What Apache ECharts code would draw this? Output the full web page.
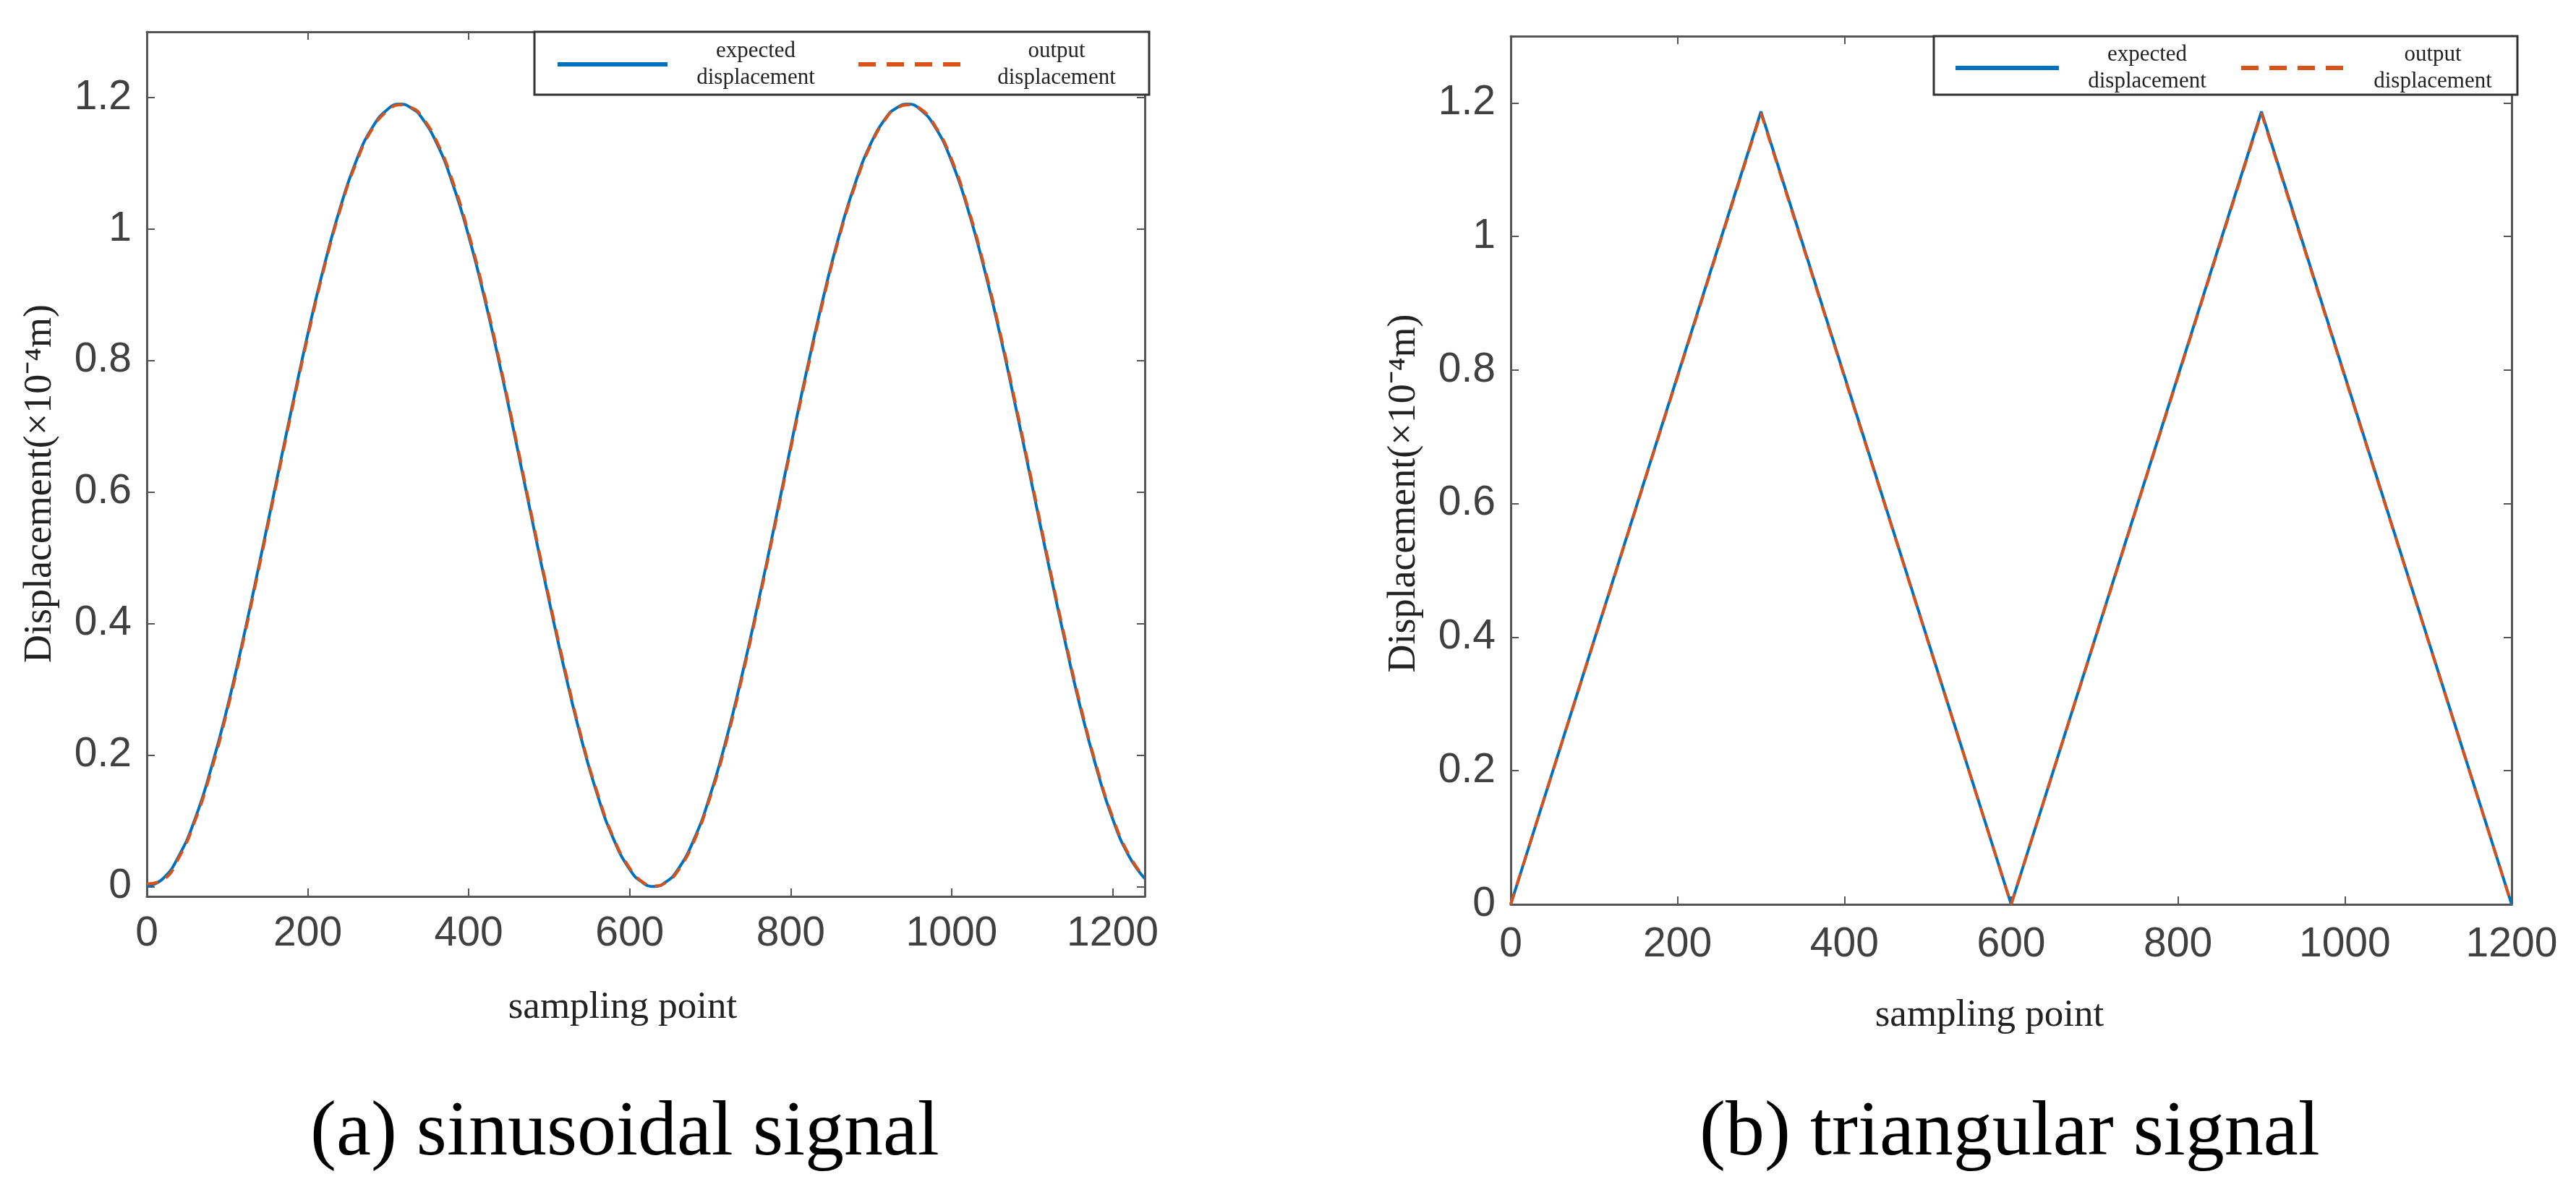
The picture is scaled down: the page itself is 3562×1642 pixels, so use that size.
<!DOCTYPE html>
<html>
<head>
<meta charset="utf-8">
<title>sinusoidal and triangular signal</title>
<script src="https://cdn.jsdelivr.net/npm/echarts@6/dist/echarts.min.js"></script>
<style>
    html, body { margin: 0; padding: 0; background: #fff; }
    #chart { width: 3562px; height: 1642px; }
</style>
</head>
<body>
<div id="chart"></div>
<script>
// sampling points
var sinX = [0, 20, 40, 60, 80, 100, 120, 140, 160, 180, 200, 220, 240, 260, 280, 300, 315,
    330, 340, 360, 380, 400, 420, 440, 460, 480, 500, 520, 540, 560, 580, 600, 615, 630,
    645, 660, 680, 700, 720, 740, 760, 780, 800, 820, 840, 860, 880, 900, 920, 930, 945,
    960, 980, 1000, 1020, 1040, 1060, 1080, 1100, 1120, 1140, 1160, 1180, 1200, 1220, 1240];
var sinExpected = [0.00, 0.012, 0.047, 0.103, 0.180, 0.272, 0.378, 0.492, 0.610, 0.727, 0.840, 0.942, 1.031, 1.103, 1.154, 1.183, 1.190,
    1.183, 1.172, 1.131, 1.069, 0.989, 0.893, 0.785, 0.669, 0.550, 0.434, 0.324, 0.224, 0.139, 0.072, 0.026, 0.007, 0.000,
    0.007, 0.026, 0.072, 0.139, 0.224, 0.324, 0.434, 0.550, 0.669, 0.785, 0.893, 0.989, 1.069, 1.131, 1.172, 1.183, 1.190,
    1.183, 1.154, 1.103, 1.031, 0.942, 0.840, 0.727, 0.610, 0.492, 0.378, 0.272, 0.180, 0.103, 0.047, 0.012];
var sinOutput = [0.004, 0.010, 0.044, 0.100, 0.176, 0.268, 0.374, 0.488, 0.606, 0.723, 0.836, 0.939, 1.028, 1.100, 1.152, 1.181, 1.189,
    1.184, 1.174, 1.134, 1.073, 0.993, 0.897, 0.789, 0.673, 0.554, 0.438, 0.328, 0.227, 0.142, 0.074, 0.028, 0.008, 0.001,
    0.006, 0.024, 0.069, 0.136, 0.220, 0.320, 0.430, 0.546, 0.665, 0.781, 0.889, 0.986, 1.066, 1.129, 1.171, 1.182, 1.189,
    1.184, 1.156, 1.106, 1.034, 0.946, 0.844, 0.731, 0.614, 0.496, 0.382, 0.276, 0.183, 0.106, 0.049, 0.013];

// corner points
var triX = [0, 300, 600, 900, 1200];
var triExpected = [0, 1.187, 0, 1.187, 0];
var triOutput = [0, 1.185, 0, 1.185, 0];

var xTicks = [0, 200, 400, 600, 800, 1000, 1200];
var yTicks = [0, 0.2, 0.4, 0.6, 0.8, 1, 1.2];
var seriesNames = ['expected displacement', 'output displacement'];
var captions = ['(a) sinusoidal signal', '(b) triangular signal'];

var blue = '#0072BD';
var orange = '#D95319';
var frameColor = '#555';
var labelColor = '#404040';
var sansFont = '"Liberation Sans", Arial, sans-serif';
var serifFont = '"Liberation Serif", "Times New Roman", serif';

function pairs(xs, ys) {
    return xs.map(function (x, i) { return [x, ys[i]]; });
}

function plain(v) {
    return String(v);
}

var chart = echarts.init(document.getElementById('chart'));

// four axes for each grid so the frame gets inward ticks on every side
function makeX(gi, max, margin, nameShift) {
    var base = {
        gridIndex: gi, type: 'value', min: 0, max: max,
        axisLine: { show: true, onZero: false, lineStyle: { color: frameColor, width: 3 } },
        axisTick: { show: true, inside: true, length: 11, customValues: xTicks, lineStyle: { color: frameColor, width: 2 } },
        splitLine: { show: false }
    };
    var bottom = Object.assign({}, base, {
        position: 'bottom',
        name: 'sampling point', nameLocation: 'middle', nameGap: 128,
        // right padding nudges the centred name a little to the left
        nameTextStyle: { fontFamily: serifFont, fontSize: 53, color: '#222', padding: [0, nameShift, 0, 0] },
        axisLabel: { customValues: xTicks, formatter: plain, fontFamily: sansFont, fontSize: 57, color: labelColor, margin: margin }
    });
    var top = Object.assign({}, base, { position: 'top', axisLabel: { show: false } });
    return [bottom, top];
}

function makeY(gi, min, max, nameShift) {
    var base = {
        gridIndex: gi, type: 'value', min: min, max: max,
        axisLine: { show: true, onZero: false, lineStyle: { color: frameColor, width: 3 } },
        axisTick: { show: true, inside: true, length: 11, customValues: yTicks, lineStyle: { color: frameColor, width: 2 } },
        splitLine: { show: false }
    };
    var left = Object.assign({}, base, {
        position: 'left',
        name: 'Displacement(×10⁻⁴m)', nameLocation: 'middle', nameGap: 120,
        // rotated name: right padding moves it down a bit
        nameTextStyle: { fontFamily: serifFont, fontSize: 54, color: '#222', padding: [0, nameShift, 0, 0] },
        axisLabel: { customValues: yTicks, formatter: plain, fontFamily: sansFont, fontSize: 57, color: labelColor, margin: 21 }
    });
    var right = Object.assign({}, base, { position: 'right', axisLabel: { show: false } });
    return [left, right];
}

var xa = makeX(0, 1240, 24, 64);
var xb = makeX(1, 1200, 28, 60);
var ya = makeY(0, -0.015, 1.3, 54);
var yb = makeY(1, 0, 1.3, 64);

function makeLegend(left, top, iconW, padding) {
    return {
        left: left, top: top, orient: 'horizontal',
        itemWidth: iconW, itemHeight: 20, itemGap: padding[4],
        padding: padding.slice(0, 4),
        borderColor: '#333', borderWidth: 3, backgroundColor: '#fff',
        selectedMode: false,
        data: [
            { name: seriesNames[0], itemStyle: { opacity: 0 }, lineStyle: { width: 6, type: 'solid' } },
            { name: seriesNames[1], itemStyle: { opacity: 0 }, lineStyle: { width: 6, type: [24, 15] } }
        ],
        formatter: function (name) {
            var parts = name.split(' ');
            return '{t|' + parts[0] + '}\n{t|' + parts[1] + '}';
        },
        textStyle: {
            rich: { t: { width: 234, align: 'center', fontFamily: serifFont, fontSize: 31, lineHeight: 37, color: '#222' } }
        }
    };
}

function makeSeries(xi, yi, xs, exp, out, smooth) {
    return [
        {
            name: seriesNames[0], type: 'line', xAxisIndex: xi, yAxisIndex: yi,
            data: pairs(xs, exp), smooth: smooth, symbol: 'none',
            lineStyle: { color: blue, width: 4 }, itemStyle: { color: blue }, z: 2
        },
        {
            name: seriesNames[1], type: 'line', xAxisIndex: xi, yAxisIndex: yi,
            data: pairs(xs, out), smooth: smooth, symbol: 'none',
            lineStyle: { color: orange, width: 4, type: [16, 12] }, itemStyle: { color: orange }, z: 3
        }
    ];
}

var option = {
    animation: false,
    backgroundColor: '#fff',
    grid: [
        { left: 203, top: 44, width: 1380, height: 1196 },
        { left: 2089, top: 50, width: 1384, height: 1201 }
    ],
    xAxis: [xa[0], xa[1], xb[0], xb[1]],
    yAxis: [ya[0], ya[1], yb[0], yb[1]],
    legend: [
        makeLegend(739, 44, 152, [11, 11, 8, 29, 22]),
        makeLegend(2674, 50, 143, [10, 0, 3, 27, 10])
    ],
    graphic: [
        { type: 'text', left: 879 - 450, top: 1515, style: { text: captions[0], fontFamily: serifFont, fontSize: 108, fill: '#000', width: 900, align: 'center' } },
        { type: 'text', left: 2800 - 450, top: 1515, style: { text: captions[1], fontFamily: serifFont, fontSize: 108, fill: '#000', width: 900, align: 'center' } }
    ],
    series: [].concat(
        makeSeries(0, 0, sinX, sinExpected, sinOutput, true),
        makeSeries(2, 2, triX, triExpected, triOutput, false)
    )
};

chart.setOption(option);
</script>
</body>
</html>
